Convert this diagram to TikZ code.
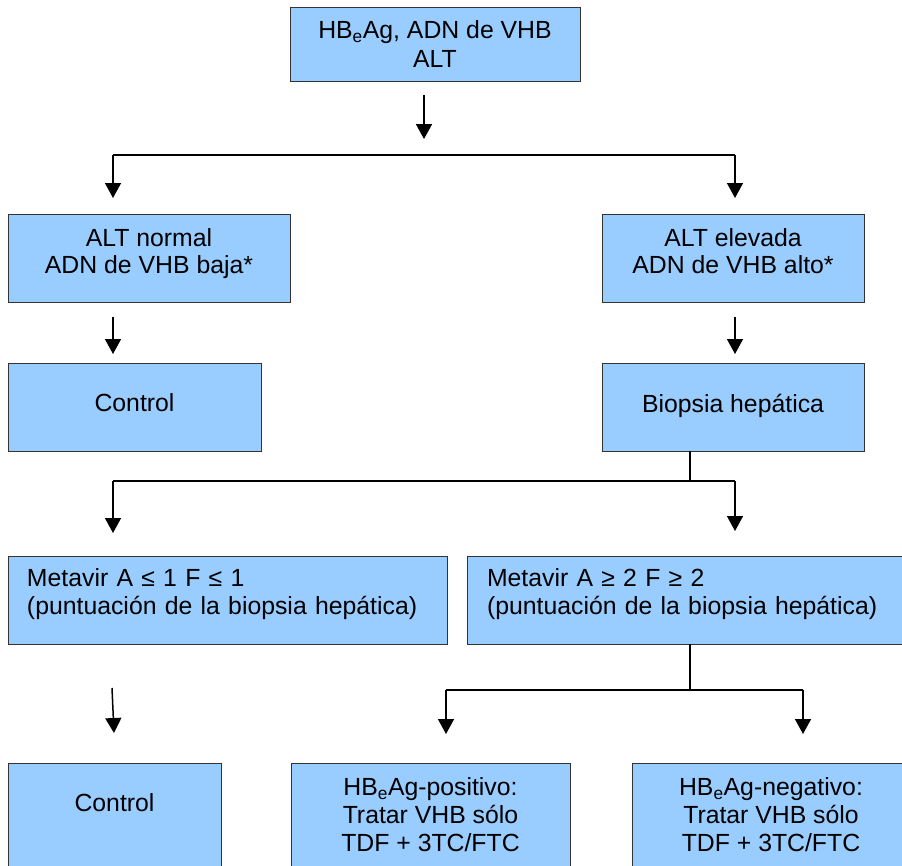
\documentclass[tikz,border=0pt]{standalone}
\usepackage{fontspec}
\setmainfont{Liberation Sans}
\usetikzlibrary{arrows.meta}
\definecolor{boxblue}{HTML}{99CCFF}
\begin{document}
\begin{tikzpicture}[x=1pt,y=-1pt]
\tikzset{
  box/.style={draw=black!80, line width=0.9pt, fill=boxblue, inner sep=0pt, outer sep=0pt,
    anchor=north west, align=center, font=\fontsize{24.8}{28}\selectfont},
  conn/.style={line width=1.5pt, black},
  arr/.style={conn, -{Triangle[width=16pt,length=15pt]}}
}
\useasboundingbox (0,0) rectangle (902,865);
% boxes
\node[box, minimum width=290, minimum height=74, font=\fontsize{24.8}{29}\selectfont] (top) at (290,7) {HB\textsubscript{e}Ag, ADN de VHB\\ALT};
\node[box, minimum width=282, minimum height=88, font=\fontsize{24.8}{27}\selectfont, text depth=13pt] (altn) at (8,214) {ALT normal\\ADN de VHB baja*};
\node[box, minimum width=262, minimum height=88, font=\fontsize{24.8}{27}\selectfont, text depth=13pt] (alte) at (602,214) {ALT elevada\\ADN de VHB alto*};
\node[box, minimum width=253, minimum height=88, text depth=8pt] (ctrla) at (8,363) {Control};
\node[box, minimum width=262, minimum height=88, text depth=8pt] (biop) at (602,363) {Biopsia hepática};
\node[box, align=left, minimum width=439, minimum height=88, text width=401pt, text depth=44pt] (meta) at (8,556) {Metavir A ≤ 1 F ≤ 1\\(puntuación de la biopsia hepática)};
\node[box, align=left, minimum width=443, minimum height=88, text width=403pt, text depth=44pt] (metb) at (467,556) {Metavir A ≥ 2 F ≥ 2\\(puntuación de la biopsia hepática)};
\node[box, minimum width=213, text height=48.5pt, text depth=55.5pt] (ctrlb) at (8,763) {Control};
\node[box, minimum width=279, minimum height=104] (pos) at (291,763) {HB\textsubscript{e}Ag-positivo:\\Tratar VHB sólo\\TDF + 3TC/FTC};
\node[box, minimum width=278, minimum height=104] (neg) at (632,763) {HB\textsubscript{e}Ag-negativo:\\Tratar VHB sólo\\TDF + 3TC/FTC};
% connector points
\coordinate (a0) at (424,95);
\coordinate (a1) at (424,139);
\coordinate (hL) at (113,155);
\coordinate (hR) at (735,155);
\coordinate (tL) at (113,198);
\coordinate (tR) at (735,198);
\coordinate (bL0) at (113,317);
\coordinate (bL1) at (113,354);
\coordinate (bR0) at (735,317);
\coordinate (bR1) at (735,354);
\coordinate (c0) at (690,481);
\coordinate (cL) at (113,481);
\coordinate (cR) at (735,481);
\coordinate (cLt) at (113,533);
\coordinate (cRt) at (735,531);
\coordinate (d0) at (112,688);
\coordinate (d1) at (114,733);
\coordinate (e0) at (690,690);
\coordinate (eL) at (446,690);
\coordinate (eR) at (803,690);
\coordinate (eLt) at (446,734);
\coordinate (eRt) at (803,734);
% connectors
\draw[arr, line width=1.8pt] (a0) -- (a1);
\draw[conn] (hL) -- (hR);
\draw[arr] (hL) -- (tL);
\draw[arr] (hR) -- (tR);
\draw[arr] (bL0) -- (bL1);
\draw[arr] (bR0) -- (bR1);
\draw[conn] (biop.south -| c0) -- (c0);
\draw[conn] (cL) -- (cR);
\draw[arr] (cL) -- (cLt);
\draw[arr] (cR) -- (cRt);
\draw[arr] (d0) -- (d1);
\draw[conn] (metb.south -| e0) -- (e0);
\draw[conn] (eL) -- (eR);
\draw[arr] (eL) -- (eLt);
\draw[arr] (eR) -- (eRt);
\end{tikzpicture}
\end{document}
